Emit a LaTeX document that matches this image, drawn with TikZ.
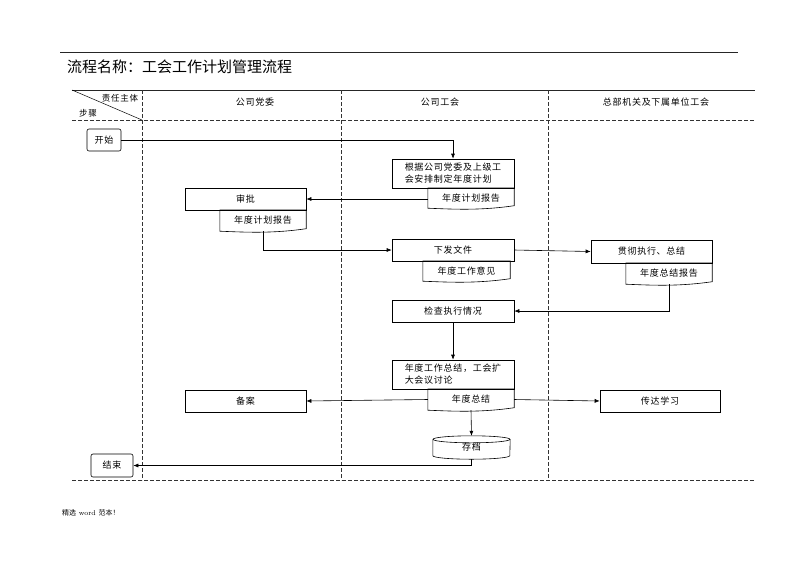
\documentclass[tikz,border=0pt]{standalone}
\usepackage{fontspec}
\newfontfamily\cjk[LetterSpace=8]{Noto Sans CJK SC}
\newfontfamily\cjkt{Noto Sans CJK SC}
\usetikzlibrary{arrows.meta,calc}
\tikzset{
  txt/.style={font=\cjk\fontsize{9}{12}\selectfont, inner sep=0pt},
  box/.style={txt, draw, line width=0.6pt},
  rbox/.style={box, rounded corners=2pt},
  docn/.style={txt},
  conn/.style={line width=0.6pt, -{Latex[length=5pt,width=4pt]}},
  plain/.style={line width=0.6pt},
  lane/.style={dash pattern=on 4pt off 2pt, line width=0.5pt, black!80},
  hdash/.style={dash pattern=on 3.5pt off 2.5pt, line width=0.8pt, black!80},
}
\newcommand\docoutline[1]{%
  \draw[plain] (#1.north west) -- (#1.north east) -- ([yshift=2.5pt]#1.south east)
    .. controls ($(#1.south east)!0.4!(#1.south west)+(0pt,-2.5pt)$)
    and ($(#1.south east)!0.7!(#1.south west)+(0pt,-1pt)$) .. (#1.south west) -- cycle;}
\begin{document}
\begin{tikzpicture}[x=1pt,y=-1pt]
\useasboundingbox (0,0) rectangle (800,566);
\fill[white] (0,0) rectangle (800,566);

% frame lines
\draw[line width=0.4pt, black!85] (60,52) -- (738,52);
\draw[line width=0.9pt, black!85] (72,90) -- (755,90);
\draw[hdash] (72,120) -- (755,120);
\draw[hdash] (72,480) -- (755,480);
\draw[line width=0.5pt] (72,90) -- (142,120);
\foreach \x in {142,341,548} \draw[lane] (\x,90) -- (\x,480);

% title and headers
\node[anchor=west, inner sep=0pt, font=\cjkt\fontsize{15}{18}\selectfont] (title) at (67,67) {流程名称：工会工作计划管理流程};
\node[txt, font=\cjk\fontsize{8.5}{10}\selectfont] (hz) at (120,98) {责任主体};
\node[txt, font=\cjk\fontsize{8.5}{10}\selectfont] (hb) at (88,113) {步骤};
\node[txt] (h1) at (255,102) {公司党委};
\node[txt] (h2) at (440,102) {公司工会};
\node[txt] (h3) at (656,102) {总部机关及下属单位工会};

% boxes
\node[rbox, minimum width=34pt, minimum height=22pt] (st) at (104,140) {开始};
\node[box, minimum width=122pt, minimum height=29pt, align=left] (b1) at (453,173.5) {根据公司党委及上级工\\会安排制定年度计划};
\node[docn, minimum width=86pt, minimum height=20pt] (d1) at (471,198) {年度计划报告};
\node[box, minimum width=121pt, minimum height=22pt] (sp) at (245.5,199) {审批};
\node[docn, minimum width=86pt, minimum height=21pt] (d2) at (263,220.5) {年度计划报告};
\node[box, minimum width=122pt, minimum height=22pt] (xf) at (453,250) {下发文件};
\node[docn, minimum width=87pt, minimum height=20pt] (d3) at (466.5,271) {年度工作意见};
\node[box, minimum width=121pt, minimum height=23pt] (gc) at (651.5,251.5) {贯彻执行、总结};
\node[docn, minimum width=86pt, minimum height=21pt] (d4) at (669,273.5) {年度总结报告};
\node[box, minimum width=122pt, minimum height=22pt] (jc) at (453,311) {检查执行情况};
\node[box, minimum width=122pt, minimum height=29pt, align=left] (zj) at (453,374.5) {年度工作总结，工会扩\\大会议讨论};
\node[docn, minimum width=86pt, minimum height=21pt] (d5) at (471,399.5) {年度总结};
\node[box, minimum width=121pt, minimum height=22pt] (ba) at (245.5,401) {备案};
\node[box, minimum width=120pt, minimum height=22pt] (cd) at (660,401) {传达学习};
\node[docn, minimum width=77pt, minimum height=23pt] (cyl) at (471.5,447.5) {存档};
\node[rbox, minimum width=42pt, minimum height=23pt] (en) at (112,465.5) {结束};

% document outlines
\docoutline{d1}
\docoutline{d2}
\docoutline{d3}
\docoutline{d4}
\docoutline{d5}

% cylinder outline
\draw[plain] ([yshift=-3.5pt]cyl.north west) -- ([yshift=3.5pt]cyl.south west)
  arc[start angle=180,end angle=360,x radius=38.5pt,y radius=3.5pt]
  -- ([yshift=-3.5pt]cyl.north east);
\draw[plain] ($(cyl.north)+(0pt,-3.5pt)$) ellipse [x radius=38.5pt, y radius=3.5pt];

% connectors
\draw[conn] (st.east) -| (b1.north);
\draw[conn] (sp.east -| d1.west) -- (sp.east);
\draw[conn] (d2.south) |- (xf.west);
\draw[conn] (xf.east) -- (gc.west);
\draw[conn] (d4.south) |- (jc.east);
\draw[conn] (jc.south) -- (zj.north);
\draw[conn] (d5.west) -- (ba.east);
\draw[conn] (d5.east) -- (cd.west);
\draw[conn] (d5.south) -- (cyl.north);
\draw[conn] (cyl.south) |- (en.east);

% footer
\node[anchor=west, inner sep=0pt, font=\fontsize{7}{8}\selectfont] (ft) at (62,513) {{\cjkt 精选}\ word\ {\cjkt 范本！}};
\end{tikzpicture}
\end{document}
